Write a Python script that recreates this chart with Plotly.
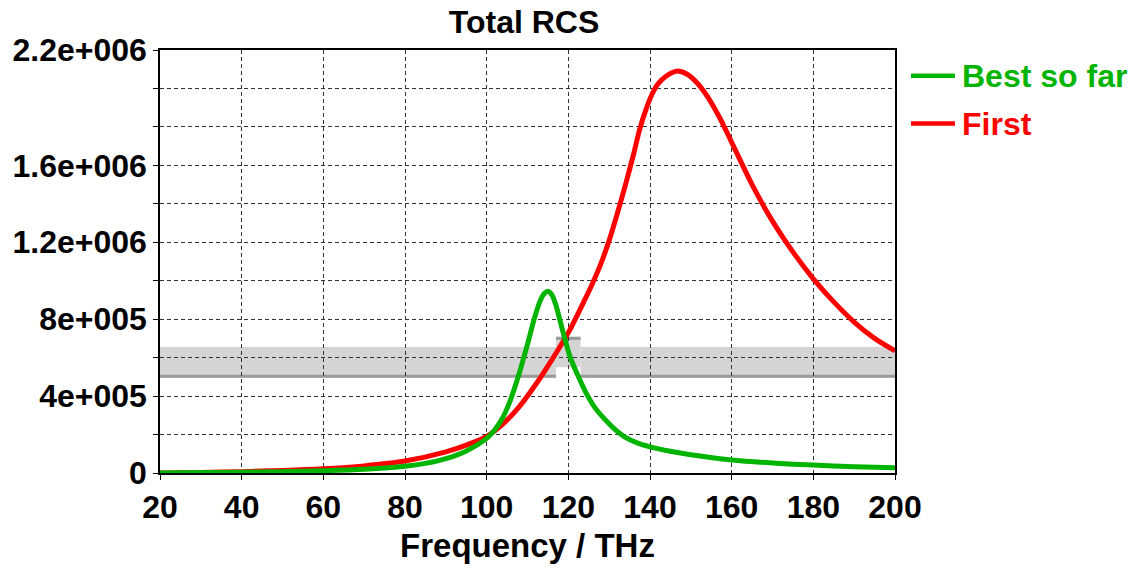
import plotly.graph_objects as go

# ---- data ----
best_freq = [20, 30, 40, 50, 60, 70, 80, 85, 90, 95, 100, 102, 104, 106, 108, 110, 111.5, 113, 114,
             115, 116, 117, 118, 119, 120.5, 122.7, 124.5, 126.5, 128.9, 131, 134, 137, 140, 145,
             150, 160, 170, 180, 190, 200]
best_rcs = [0.0, 0.002e6, 0.004e6, 0.007e6, 0.012e6, 0.02e6, 0.035e6, 0.05e6, 0.075e6, 0.115e6,
            0.18e6, 0.225e6, 0.29e6, 0.39e6, 0.52e6, 0.67e6, 0.79e6, 0.89e6, 0.93e6,
            0.945e6, 0.925e6, 0.87e6, 0.79e6, 0.71e6, 0.60e6, 0.49e6, 0.41e6, 0.34e6, 0.28e6,
            0.235e6, 0.185e6, 0.155e6, 0.136e6, 0.113e6,
            0.095e6, 0.068e6, 0.052e6, 0.041e6, 0.033e6, 0.027e6]

first_freq = [20, 30, 40, 50, 60, 70, 80, 90, 95, 100, 104, 108, 112, 116, 120, 124, 126, 128, 130,
              132, 134, 136, 137.5, 139, 140.5, 142, 144, 146.5, 149, 151.5, 154, 157, 160, 165,
              170, 175, 180, 185, 190, 195, 200]
first_rcs = [0.0, 0.003e6, 0.007e6, 0.013e6, 0.022e6, 0.037e6, 0.062e6, 0.11e6, 0.145e6, 0.19e6,
             0.255e6, 0.345e6, 0.46e6, 0.59e6, 0.73e6, 0.90e6, 0.99e6, 1.09e6, 1.21e6,
             1.35e6, 1.50e6, 1.66e6, 1.79e6, 1.89e6, 1.97e6, 2.025e6, 2.065e6, 2.09e6, 2.075e6,
             2.03e6, 1.96e6, 1.85e6, 1.72e6, 1.50e6,
             1.31e6, 1.15e6, 1.01e6, 0.89e6, 0.785e6, 0.70e6, 0.635e6]

series_names = ["Best so far", "First"]

x_tickvals = [20, 40, 60, 80, 100, 120, 140, 160, 180, 200]
y_tickvals = [i * 2e5 for i in range(12)]
y_ticktext = ["0", "", "4e+005", "", "8e+005", "", "1.2e+006", "", "1.6e+006", "", "", "2.2e+006"]

# optimizer goal regions
goal_band = [4.95e5, 6.55e5]     # lower goal band (line near lower edge)
goal_band_line = 5.03e5
goal_box = [5.5e5, 7.1e5]        # goal box (line near upper edge)
goal_box_line = 7.0e5
goal_box_freq = [117, 123]
freq_range = [20, 200]
rcs_range = [0, 2.2e6]

GREEN = "#00b400"
RED = "#ff0000"
FONT = "Liberation Sans, Arial, sans-serif"

fig = go.Figure()
fig.add_trace(go.Scatter(x=first_freq, y=first_rcs, mode="lines", name=series_names[1],
                         line=dict(color=RED, width=5, shape="spline", smoothing=0.8),
                         showlegend=False))
fig.add_trace(go.Scatter(x=best_freq, y=best_rcs, mode="lines", name=series_names[0],
                         line=dict(color=GREEN, width=5, shape="spline", smoothing=0.8),
                         showlegend=False))

band_fill = "#d4d4d4"
band_line = "#9a9a9a"
shapes = [
    dict(type="rect", xref="x", yref="y", x0=freq_range[0], x1=goal_box_freq[0],
         y0=goal_band[0], y1=goal_band[1], fillcolor=band_fill, line_width=0, layer="below"),
    dict(type="rect", xref="x", yref="y", x0=goal_box_freq[1], x1=freq_range[1],
         y0=goal_band[0], y1=goal_band[1], fillcolor=band_fill, line_width=0, layer="below"),
    dict(type="rect", xref="x", yref="y", x0=goal_box_freq[0], x1=goal_box_freq[1],
         y0=goal_box[0], y1=goal_box[1], fillcolor=band_fill, line_width=0, layer="below"),
    dict(type="line", xref="x", yref="y", x0=freq_range[0], x1=goal_box_freq[0],
         y0=goal_band_line, y1=goal_band_line, line=dict(color=band_line, width=3), layer="below"),
    dict(type="line", xref="x", yref="y", x0=goal_box_freq[1], x1=freq_range[1],
         y0=goal_band_line, y1=goal_band_line, line=dict(color=band_line, width=3), layer="below"),
    dict(type="line", xref="x", yref="y", x0=goal_box_freq[0], x1=goal_box_freq[1],
         y0=goal_box_line, y1=goal_box_line, line=dict(color=band_line, width=3), layer="below"),
]

# manual legend (line samples + coloured labels)
legend_rows = [(series_names[0], GREEN, 0.939), (series_names[1], RED, 0.826)]
annotations = []
for name, col, yy in legend_rows:
    shapes.append(dict(type="line", xref="paper", yref="paper", x0=1.0218, x1=1.0816,
                       y0=yy, y1=yy, line=dict(color=col, width=4.5)))
    annotations.append(dict(xref="paper", yref="paper", x=1.089, y=yy, xanchor="left",
                            yanchor="middle", showarrow=False, text=name,
                            font=dict(family=FONT, size=32, color=col, weight="bold")))

fig.update_layout(
    width=1136, height=570,
    margin=dict(l=160, r=241, t=50, b=95),
    paper_bgcolor="white", plot_bgcolor="white",
    title=dict(text="Total RCS", x=0.4613, xanchor="center", y=0.962, yanchor="middle",
               font=dict(family=FONT, size=32, color="black", weight="bold")),
    shapes=shapes, annotations=annotations,
    showlegend=False,
)
axis_common = dict(
    showline=True, linecolor="black", linewidth=1.5, mirror=True,
    showgrid=True, gridcolor="#333333", gridwidth=1, griddash="4px,3px",
    ticks="outside", ticklen=5, tickcolor="black", tickwidth=1,
    tickfont=dict(family=FONT, size=32, color="black", weight="bold"),
    zeroline=False,
)
fig.update_xaxes(range=freq_range, tickmode="array", tickvals=x_tickvals,
                 ticktext=[str(v) for v in x_tickvals],
                 title=dict(text="Frequency / THz", standoff=10,
                            font=dict(family=FONT, size=33, color="black", weight="bold")),
                 **axis_common)
fig.update_yaxes(range=rcs_range, tickmode="array", tickvals=y_tickvals, ticktext=y_ticktext,
                 ticklabelstandoff=0, **axis_common)

fig.write_html("out.html")
